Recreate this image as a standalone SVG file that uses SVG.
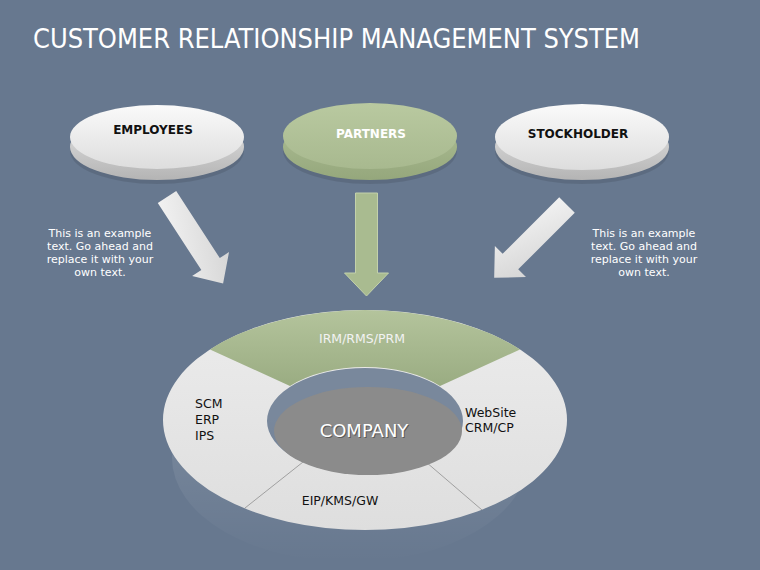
<svg xmlns="http://www.w3.org/2000/svg" width="760" height="570" viewBox="0 0 760 570">
  <defs>
    <linearGradient id="discGray" x1="0" y1="0" x2="0" y2="1">
      <stop offset="0" stop-color="#fafafa"/>
      <stop offset="1" stop-color="#dddddd"/>
    </linearGradient>
    <linearGradient id="rimGray" x1="0" y1="0" x2="0" y2="1">
      <stop offset="0" stop-color="#e6e6e6"/>
      <stop offset="1" stop-color="#b4b4b4"/>
    </linearGradient>
    <linearGradient id="discGreen" x1="0" y1="0" x2="0" y2="1">
      <stop offset="0" stop-color="#b9c9a0"/>
      <stop offset="1" stop-color="#a8b98f"/>
    </linearGradient>
    <linearGradient id="rimGreen" x1="0" y1="0" x2="0" y2="1">
      <stop offset="0" stop-color="#b0c197"/>
      <stop offset="1" stop-color="#95a77c"/>
    </linearGradient>
    <linearGradient id="arrowGray" x1="0" y1="0" x2="1" y2="1">
      <stop offset="0" stop-color="#f6f6f6"/>
      <stop offset="1" stop-color="#d2d2d2"/>
    </linearGradient>
    <linearGradient id="ringGray" x1="0" y1="0" x2="0" y2="1">
      <stop offset="0" stop-color="#ececec"/>
      <stop offset="1" stop-color="#dedede"/>
    </linearGradient>
    <linearGradient id="ringGreen" x1="0" y1="0" x2="0" y2="1">
      <stop offset="0" stop-color="#b4c49c"/>
      <stop offset="1" stop-color="#9aac82"/>
    </linearGradient>
    <linearGradient id="reflect" x1="0" y1="0" x2="0" y2="1">
      <stop offset="0.3" stop-color="#ffffff" stop-opacity="0.12"/>
      <stop offset="1" stop-color="#ffffff" stop-opacity="0"/>
    </linearGradient>
    <path id="arrowShape" d="M -11 0 L 11 0 L 11 80 L 22 80 L 0 103 L -22 80 L -11 80 Z"/>
  </defs>
  <style>
    .title { font-family: "DejaVu Sans Condensed", "DejaVu Sans", sans-serif; font-size: 26px; fill: #ffffff; }
    .nodeLabel { font-family: "DejaVu Sans", sans-serif; font-size: 12px; font-weight: bold; text-anchor: middle; }
    .note { font-family: "DejaVu Sans", sans-serif; font-size: 11px; fill: #ffffff; text-anchor: middle; }
    .ringLabel { font-family: "DejaVu Sans", sans-serif; font-size: 12.5px; fill: #111111; }
    .divider { stroke: #8f8f8f; stroke-width: 0.8; fill: none; }
  </style>

  <rect x="0" y="0" width="760" height="570" fill="#67788f"/>

  <text class="title" x="33" y="48" textLength="607" lengthAdjust="spacingAndGlyphs">CUSTOMER RELATIONSHIP MANAGEMENT SYSTEM</text>

  <g id="employees">
    <ellipse cx="157" cy="151" rx="87" ry="33" fill="#000000" opacity="0.10"/>
    <ellipse cx="157" cy="147" rx="87" ry="33" fill="url(#rimGray)"/>
    <ellipse cx="157" cy="137" rx="87" ry="32" fill="url(#discGray)"/>
    <text class="nodeLabel" x="153" y="134" fill="#111111">EMPLOYEES</text>
  </g>

  <g id="partners">
    <ellipse cx="370" cy="151" rx="87" ry="33" fill="#000000" opacity="0.10"/>
    <ellipse cx="370" cy="147" rx="87" ry="33" fill="url(#rimGreen)"/>
    <ellipse cx="370" cy="136" rx="87" ry="33" fill="url(#discGreen)"/>
    <text class="nodeLabel" x="371" y="138" fill="#ffffff">PARTNERS</text>
  </g>

  <g id="stockholder">
    <ellipse cx="582" cy="151" rx="87" ry="33" fill="#000000" opacity="0.10"/>
    <ellipse cx="582" cy="147" rx="87" ry="33" fill="url(#rimGray)"/>
    <ellipse cx="582" cy="137" rx="87" ry="33" fill="url(#discGray)"/>
    <text class="nodeLabel" x="578" y="138" fill="#111111">STOCKHOLDER</text>
  </g>

  <g id="connectors">
    <use href="#arrowShape" transform="translate(167,197) rotate(-33)" fill="url(#arrowGray)"/>
    <use href="#arrowShape" transform="translate(366.5,193)" fill="#a9bb90" stroke="#c3d1ab" stroke-width="1"/>
    <use href="#arrowShape" transform="translate(567,205) rotate(45)" fill="url(#arrowGray)"/>
  </g>

  <g id="note-left">
    <text class="note" x="100" y="237">This is an example</text>
    <text class="note" x="100" y="250">text. Go ahead and</text>
    <text class="note" x="100" y="263">replace it with your</text>
    <text class="note" x="100" y="276">own text.</text>
  </g>

  <g id="note-right">
    <text class="note" x="644" y="237">This is an example</text>
    <text class="note" x="644" y="250">text. Go ahead and</text>
    <text class="note" x="644" y="263">replace it with your</text>
    <text class="note" x="644" y="276">own text.</text>
  </g>

  <g id="ring">
    <ellipse cx="350" cy="458" rx="178" ry="104" fill="url(#reflect)"/>
    <path d="M 163 420 A 202 110 0 1 0 567 420 A 202 110 0 1 0 163 420 Z M 267 421 A 98 53 0 1 1 463 421 A 98 53 0 1 1 267 421 Z" fill="url(#ringGray)" fill-rule="evenodd"/>
    <path id="seg-irm" d="M 210 349.5 A 202 110 0 0 1 520 349.5 L 440 386 A 98 53 0 0 0 290 386 Z" fill="url(#ringGreen)"/>
    <path class="divider" d="M 245 508 L 303 462"/>
    <path class="divider" d="M 482 510 L 426 462"/>
    <text x="362" y="343" font-family="DejaVu Sans, sans-serif" font-size="12.5" fill="#f2f2f2" text-anchor="middle">IRM/RMS/PRM</text>
    <text class="ringLabel" x="195" y="408">SCM</text>
    <text class="ringLabel" x="195" y="424">ERP</text>
    <text class="ringLabel" x="195" y="440">IPS</text>
    <text class="ringLabel" x="465" y="417">WebSite</text>
    <text class="ringLabel" x="465" y="432">CRM/CP</text>
    <text class="ringLabel" x="340" y="505" text-anchor="middle">EIP/KMS/GW</text>
  </g>

  <g id="company">
    <ellipse cx="368" cy="431" rx="94" ry="44" fill="#8b8b8b"/>
    <text x="365" y="438" font-family="DejaVu Sans, sans-serif" font-size="18" fill="#3a3a3a" text-anchor="middle" opacity="0.6">COMPANY</text>
    <text x="364" y="437" font-family="DejaVu Sans, sans-serif" font-size="18" fill="#ffffff" text-anchor="middle">COMPANY</text>
  </g>
</svg>
